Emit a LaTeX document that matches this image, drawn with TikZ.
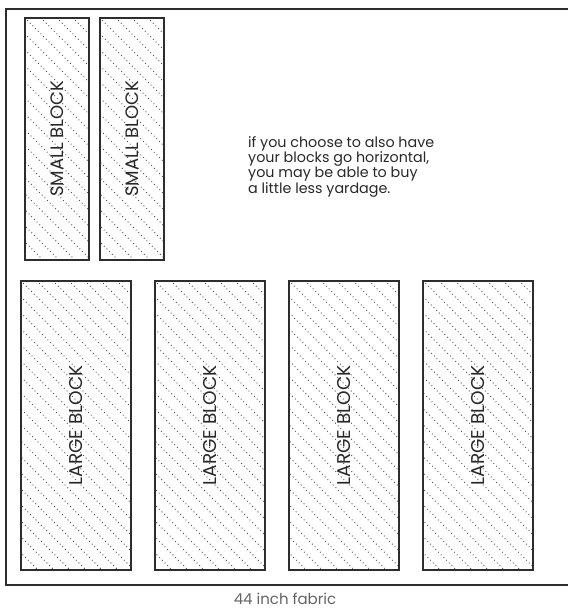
\documentclass[tikz,border=0pt]{standalone}
\usepackage{fontspec}
\setmainfont{Poppins}
\usepackage{graphicx}
\usepackage{xcolor}
\usepackage{tikz}
\usetikzlibrary{positioning}
\definecolor{frameline}{RGB}{45, 45, 45}
\definecolor{hatchgray}{RGB}{80, 80, 80}
\definecolor{notetext}{RGB}{40, 40, 40}
\definecolor{captiongray}{RGB}{100, 100, 100}

\begin{document}
\begin{tikzpicture}[
    x=1pt, y=-1pt,
    hatchline/.style={hatchgray, line width=1.3pt, line cap=round,
                      dash pattern=on 0pt off 3.8pt},
    hatched/.style={path picture={
        \foreach \k in {-22,...,8}
            \draw[hatchline] ([xshift=\k*16pt]path picture bounding box.north west)
                -- ++(330pt,-330pt);
    }},
    smallblock/.style={draw=frameline, line width=1.6pt, hatched, inner sep=0pt,
                       minimum width=64pt, minimum height=242pt,
                       font=\fontsize{18}{18}\selectfont\color{notetext}},
    largeblock/.style={draw=frameline, line width=1.6pt, hatched, inner sep=0pt,
                       minimum width=110pt, minimum height=289pt,
                       font=\fontsize{18.5}{18}\selectfont\color{notetext}}
]
    \useasboundingbox (0,0) rectangle (568,611);
    % fabric piece, its right edge runs off the page
    \draw[frameline, line width=2pt] (580,9) -- (6,9) -- (6,585) -- (580,585);

    % two small blocks on top
    \node[smallblock, anchor=north west] (small1) at (24,17) {\rotatebox{90}{SMALL BLOCK}};
    \node[smallblock, right=9.5pt of small1] (small2) {\rotatebox{90}{SMALL BLOCK}};

    % four large blocks below
    \node[largeblock, anchor=north west] (large1) at (20,280) {\rotatebox{90}{LARGE BLOCK}};
    \node[largeblock, right=22.5pt of large1] (large2) {\rotatebox{90}{LARGE BLOCK}};
    \node[largeblock, right=22.5pt of large2] (large3) {\rotatebox{90}{LARGE BLOCK}};
    \node[largeblock, right=22.5pt of large3] (large4) {\rotatebox{90}{LARGE BLOCK}};

    \node[anchor=north west, align=left, inner sep=0pt, text=notetext,
          font=\fontsize{14.3}{15.4}\selectfont] (note) at (248,136)
        {if you choose to also have\\your blocks go horizontal,\\you may be able to buy\\a little less yardage.};

    \node[text=captiongray, inner sep=0pt, font=\fontsize{15}{15}\selectfont] (caption) at (285,599) {44 inch fabric};
\end{tikzpicture}
\end{document}
